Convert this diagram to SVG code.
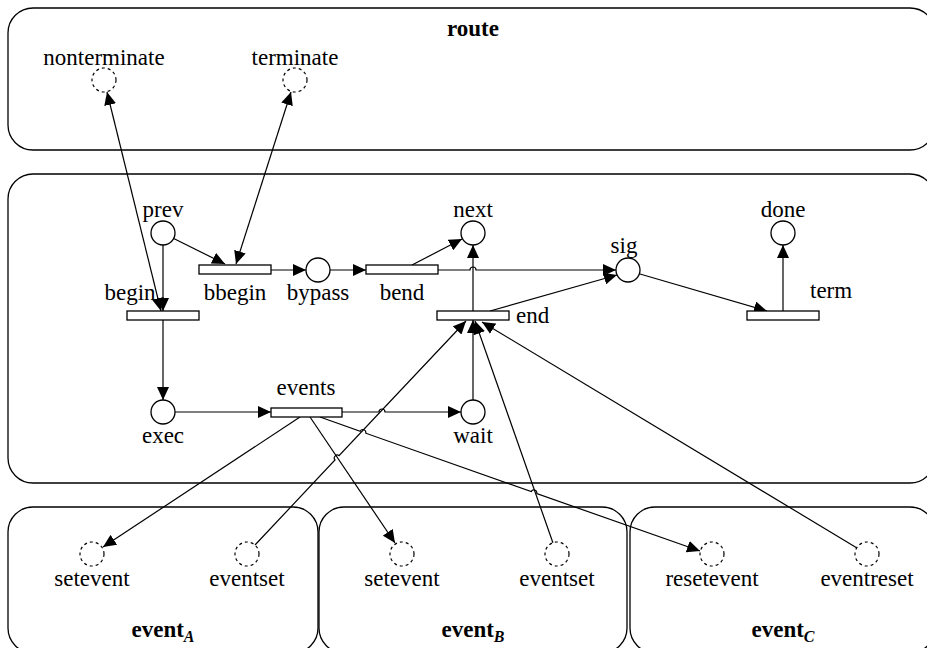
<svg xmlns="http://www.w3.org/2000/svg" width="927" height="648" viewBox="0 0 927 648">
<style>
.box{fill:none;stroke:#000;stroke-width:1.3}
.pl{fill:#fff;stroke:#000;stroke-width:1.3}
.dp{fill:#fff;stroke:#000;stroke-width:1.2;stroke-dasharray:3,3}
.tr{fill:#fff;stroke:#000;stroke-width:1.3}
.e{fill:none;stroke:#000;stroke-width:1.2}
.a{marker-end:url(#ah)}
.b{marker-start:url(#ah);marker-end:url(#ah)}
text{font-family:'Times New Roman',Times,'Liberation Serif','Nimbus Roman','DejaVu Serif',serif;font-size:23px;fill:#000}
.m{text-anchor:middle}
.bold{font-weight:bold}
.sub{font-size:16px;font-style:italic;font-weight:bold}
</style>
<defs>
<marker id="ah" markerUnits="userSpaceOnUse" markerWidth="14" markerHeight="12" refX="13" refY="6" orient="auto-start-reverse" viewBox="0 0 14 12">
<path d="M0,0 L13,6 L0,12 z" fill="#000"/>
</marker>
</defs>
<rect width="927" height="648" fill="#fff"/>
<g id="route">
<rect class="box" x="8" y="8" width="927" height="142" rx="25"/>
<text class="m bold" x="473" y="36">route</text>
</g>
<g id="net">
<rect class="box" x="8" y="174" width="927" height="309" rx="25"/>
</g>
<g id="eventA">
<rect class="box" x="8" y="507" width="310" height="146" rx="25"/>
<text class="m bold" x="163" y="637">event<tspan class="sub" dy="5">A</tspan></text>
</g>
<g id="eventB">
<rect class="box" x="319" y="507" width="308" height="146" rx="25"/>
<text class="m bold" x="473" y="637">event<tspan class="sub" dy="5">B</tspan></text>
</g>
<g id="eventC">
<rect class="box" x="630" y="507" width="305" height="146" rx="25"/>
<text class="m bold" x="783" y="637">event<tspan class="sub" dy="5">C</tspan></text>
</g>
<g id="connectors">
<path class="e a" d="M163,245 L163,311"/>
<path class="e a" d="M173.7,238.5 L225,264"/>
<path class="e b" d="M161,311 L107,92"/>
<path class="e b" d="M236,264 L291,92"/>
<path class="e a" d="M271,270 L306,270"/>
<path class="e a" d="M330,270 L366,270"/>
<path class="e a" d="M412,265 L462,239"/>
<path class="e a" d="M438,270 H470 A3,3 0 0 1 476,270 H616"/>
<path class="e a" d="M473,311 L473,245"/>
<path class="e a" d="M490,311 L617,275"/>
<path class="e a" d="M640,274 L767,311"/>
<path class="e a" d="M783,311 L783,245"/>
<path class="e a" d="M163,320 L163,400"/>
<path class="e a" d="M175,412 L271,412"/>
<path class="e a" d="M342,412 H379 A3,3 0 0 1 385,412 H461"/>
<path class="e a" d="M473,400 L473,320"/>
<path class="e a" d="M300,417 L103,547"/>
<path class="e a" d="M310,417 L395,543"/>
<path class="e a" d="M320,417 L360.2,431.2 A3,3 0 0 1 365.8,433.2 L531.2,491.6 A3,3 0 0 1 536.8,493.6 L700,551"/>
<path class="e a" d="M255,545 L335,460 A3,3 0 0 1 339,455.6 L466,321"/>
<path class="e a" d="M553,543 L475,321"/>
<path class="e a" d="M857,548 L482,322"/>
</g>
<g id="nonterminate"><circle class="dp" cx="104" cy="80" r="12"/><text class="m" x="104" y="65">nonterminate</text></g>
<g id="terminate"><circle class="dp" cx="295" cy="80" r="12"/><text class="m" x="295" y="65">terminate</text></g>
<g id="prev"><circle class="pl" cx="163" cy="233" r="12"/><text class="m" x="163" y="217">prev</text></g>
<g id="next"><circle class="pl" cx="473" cy="233" r="12"/><text class="m" x="473" y="217">next</text></g>
<g id="done"><circle class="pl" cx="783" cy="233" r="12"/><text class="m" x="783" y="217">done</text></g>
<g id="bypass"><circle class="pl" cx="318" cy="270" r="12"/><text class="m" x="318" y="300">bypass</text></g>
<g id="sig"><circle class="pl" cx="628" cy="270" r="12"/><text class="m" x="624" y="253">sig</text></g>
<g id="exec"><circle class="pl" cx="163" cy="412" r="12"/><text class="m" x="163" y="443">exec</text></g>
<g id="wait"><circle class="pl" cx="473" cy="412" r="12"/><text class="m" x="473" y="443">wait</text></g>
<g id="bbegin"><rect class="tr" x="199" y="265" width="72" height="9"/><text class="m" x="235" y="300">bbegin</text></g>
<g id="bend"><rect class="tr" x="366" y="265" width="72" height="9"/><text class="m" x="402" y="300">bend</text></g>
<g id="begin"><rect class="tr" x="127" y="311" width="72" height="9"/><text class="m" x="130" y="300">begin</text></g>
<g id="end"><rect class="tr" x="437" y="311" width="72" height="9"/><text x="516" y="323">end</text></g>
<g id="term"><rect class="tr" x="747" y="311" width="72" height="9"/><text x="810" y="298">term</text></g>
<g id="events"><rect class="tr" x="271" y="408" width="71" height="9"/><text class="m" x="306" y="395">events</text></g>
<g id="seteventA"><circle class="dp" cx="92" cy="554" r="12"/><text class="m" x="92" y="586">setevent</text></g>
<g id="eventsetA"><circle class="dp" cx="247" cy="554" r="12"/><text class="m" x="247" y="586">eventset</text></g>
<g id="seteventB"><circle class="dp" cx="402" cy="554" r="12"/><text class="m" x="402" y="586">setevent</text></g>
<g id="eventsetB"><circle class="dp" cx="557" cy="554" r="12"/><text class="m" x="557" y="586">eventset</text></g>
<g id="resetevent"><circle class="dp" cx="712" cy="554" r="12"/><text class="m" x="712" y="586">resetevent</text></g>
<g id="eventreset"><circle class="dp" cx="867" cy="554" r="12"/><text class="m" x="867" y="586">eventreset</text></g>
</svg>
